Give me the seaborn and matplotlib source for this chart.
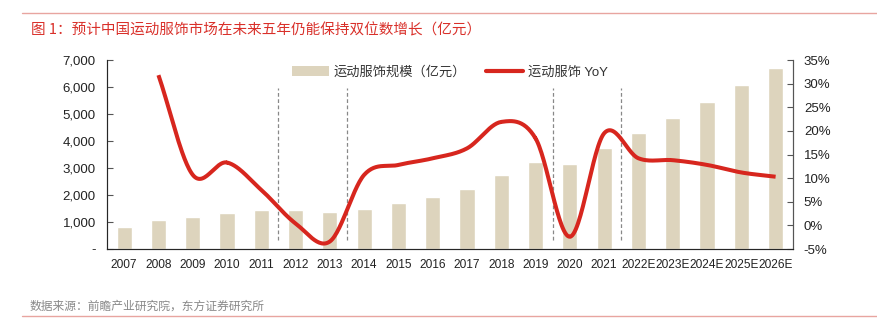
import numpy as np
import pandas as pd
import matplotlib
matplotlib.use("Agg")
import matplotlib.pyplot as plt
import seaborn as sns
from matplotlib.lines import Line2D
from matplotlib.patches import Patch

sns.set_style("white")
plt.rcParams['font.family'] = ['Liberation Sans', 'Noto Sans CJK SC']

years = ["2007", "2008", "2009", "2010", "2011", "2012", "2013", "2014", "2015", "2016",
         "2017", "2018", "2019", "2020", "2021", "2022E", "2023E", "2024E", "2025E", "2026E"]
market_size = [800, 1060, 1190, 1330, 1440, 1430, 1370, 1490, 1690, 1940,
               2230, 2730, 3220, 3160, 3750, 4300, 4850, 5450, 6070, 6690]
yoy = [np.nan, 31.8, 10.7, 13.3, 7.5, 0.4, -3.4, 10.7, 12.8, 14.2,
       16.3, 21.9, 18.4, -2.4, 19.5, 14.2, 13.8, 12.8, 11.2, 10.3]
left_ticks = [0, 1000, 2000, 3000, 4000, 5000, 6000, 7000]
left_labels = ["-", "1,000", "2,000", "3,000", "4,000", "5,000", "6,000", "7,000"]
right_ticks = [-5, 0, 5, 10, 15, 20, 25, 30, 35]
right_labels = ["-5%", "0%", "5%", "10%", "15%", "20%", "25%", "30%", "35%"]
divider_after = [4, 6, 12, 14]

title = "图 1：预计中国运动服饰市场在未来五年仍能保持双位数增长（亿元）"
source = "数据来源：前瞻产业研究院，东方证券研究所"
bar_label = "运动服饰规模（亿元）"
line_label = "运动服饰 YoY"

bar_color = "#DDD4BD"
line_color = "#D7261E"
red_rule = "#E8A5A0"

df = pd.DataFrame({"year": years, "size": market_size})

fig = plt.figure(figsize=(8.78, 3.31), dpi=100)
ax = fig.add_axes([0.1219, 0.2477, 0.781, 0.571])
sns.barplot(data=df, x="year", y="size", color=bar_color, width=0.44, ax=ax, saturation=1)
ax.set_ylim(0, 7000)
ax.set_xlim(-0.5, len(years) - 0.5)
ax.set_yticks(left_ticks)
ax.set_yticklabels(left_labels, fontsize=9.5)
ax.set_xlabel("")
ax.set_ylabel("")
ax.set_xticks(np.arange(len(years)))
ax.set_xticklabels(years, fontsize=8.6)
ax.tick_params(axis='x', length=0, pad=7)
ax.set_xticks(np.arange(len(years) + 1) - 0.5, minor=True)
ax.tick_params(axis='x', which='minor', length=4, direction='out', color='#555555', width=0.8)
ax.tick_params(axis='y', length=4, direction='in', color='#555555', width=0.8, pad=8)
ax.spines["top"].set_visible(False)
for s in ["left", "bottom", "right"]:
    ax.spines[s].set_color("#555555")
    ax.spines[s].set_linewidth(0.8)

ax2 = ax.twinx()
ax2.set_ylim(-5, 35)
ax2.set_yticks(right_ticks)
ax2.set_yticklabels(right_labels, fontsize=9.5)
ax2.tick_params(axis='y', length=4, direction='in', color='#555555', width=0.8, pad=8)
ax2.spines["top"].set_visible(False)
ax2.spines["right"].set_color("#555555")
ax2.spines["right"].set_linewidth(0.8)

# smoothed line (Catmull-Rom through data points)
xs = np.array([i for i, v in enumerate(yoy) if not np.isnan(v)], dtype=float)
ys = np.array([v for v in yoy if not np.isnan(v)], dtype=float)
px = np.concatenate([[2 * xs[0] - xs[1]], xs, [2 * xs[-1] - xs[-2]]])
py = np.concatenate([[2 * ys[0] - ys[1]], ys, [2 * ys[-1] - ys[-2]]])
cx, cy = [], []
for i in range(1, len(px) - 2):
    t = np.linspace(0, 1, 30)
    for arr, out in ((px, cx), (py, cy)):
        p0, p1, p2, p3 = arr[i - 1], arr[i], arr[i + 1], arr[i + 2]
        seg = 0.5 * ((2 * p1) + (-p0 + p2) * t + (2 * p0 - 5 * p1 + 4 * p2 - p3) * t ** 2
                     + (-p0 + 3 * p1 - 3 * p2 + p3) * t ** 3)
        out.extend(seg)
ax2.plot(cx, cy, color=line_color, lw=2.9, solid_capstyle='butt', zorder=5)

# dashed dividers
for d in divider_after:
    ax.plot([d + 0.5, d + 0.5], [350, 5950], ls=(0, (3, 2)), color="#888888", lw=0.9, zorder=3)

handles = [Patch(facecolor=bar_color, edgecolor='none'),
           Line2D([0], [0], color=line_color, lw=3)]
leg = ax.legend(handles, [bar_label, line_label], loc='upper center', bbox_to_anchor=(0.5, 1.03),
                ncol=2, frameon=False, fontsize=9.5, handlelength=2.8, handleheight=0.8,
                columnspacing=1.5, handletextpad=0.4)
for t in leg.get_texts():
    t.set_color("#333333")

for lbl in ax.get_xticklabels() + ax.get_yticklabels() + ax2.get_yticklabels():
    lbl.set_color("#222222")

fig.add_artist(Line2D([22 / 878, 1.0], [1 - 13 / 331, 1 - 13 / 331], color=red_rule, lw=1))
fig.text(31 / 878, 1 - 30 / 331, title, fontsize=10.5, color="#D9302A", va='center', ha='left',
         family=['Noto Sans CJK SC', 'DejaVu Sans'])
fig.text(30 / 878, 1 - 306 / 331, source, fontsize=8.5, color="#888888", va='center', ha='left',
         family=['Noto Sans CJK SC', 'DejaVu Sans'])
fig.add_artist(Line2D([22 / 878, 1.0], [1 - 316 / 331, 1 - 316 / 331], color=red_rule, lw=1))

fig.savefig("out.png", dpi=100)
